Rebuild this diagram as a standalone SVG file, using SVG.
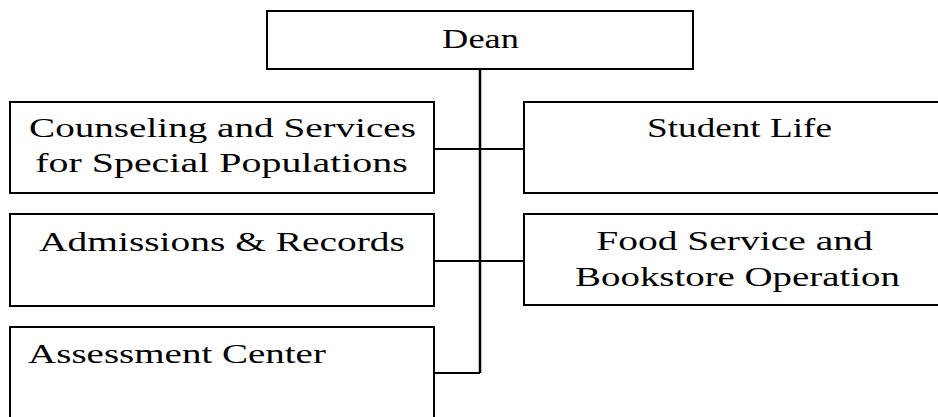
<svg xmlns="http://www.w3.org/2000/svg" width="938" height="417" viewBox="0 0 938 417">
<style>
.box{fill:#fff;stroke:#000;stroke-width:2}
.lbl{font-family:"Liberation Serif","Times New Roman",serif;font-size:28px;fill:#000;text-anchor:middle}
.con{stroke:#000;stroke-width:2;fill:none}
.trunk{stroke:#000;stroke-width:2.5;fill:none}
</style>
<rect width="938" height="417" fill="#fff"/>
<g id="connectors">
<line class="trunk" x1="480" y1="69" x2="480" y2="373"/>
<line class="con" x1="434" y1="149" x2="524" y2="149"/>
<line class="con" x1="434" y1="261" x2="524" y2="261"/>
<polyline class="con" points="434,373 480,373"/>
</g>
<g id="dean">
<rect class="box" x="267" y="11" width="426" height="58"/>
<g transform="translate(480.5,48) scale(1.3,1)"><text class="lbl" x="0" y="0">Dean</text></g>
</g>
<g id="counseling">
<rect class="box" x="10" y="102" width="424" height="91"/>
<g transform="translate(222.5,137) scale(1.398,1)"><text class="lbl" x="0" y="0">Counseling and Services</text></g>
<g transform="translate(221.5,172) scale(1.427,1)"><text class="lbl" x="0" y="0">for Special Populations</text></g>
</g>
<g id="student-life">
<rect class="box" x="524" y="102" width="426" height="91"/>
<g transform="translate(739.5,137) scale(1.328,1)"><text class="lbl" x="0" y="0">Student Life</text></g>
</g>
<g id="admissions">
<rect class="box" x="10" y="214" width="424" height="92"/>
<g transform="translate(222,251) scale(1.409,1)"><text class="lbl" x="0" y="0">Admissions &amp; Records</text></g>
</g>
<g id="food-service">
<rect class="box" x="524" y="214" width="426" height="91"/>
<g transform="translate(734.5,250) scale(1.411,1)"><text class="lbl" x="0" y="0">Food Service and</text></g>
<g transform="translate(737.5,286) scale(1.388,1)"><text class="lbl" x="0" y="0">Bookstore Operation</text></g>
</g>
<g id="assessment">
<rect class="box" x="10" y="327" width="424" height="100"/>
<g transform="translate(177,363) scale(1.393,1)"><text class="lbl" x="0" y="0">Assessment Center</text></g>
</g>
</svg>
